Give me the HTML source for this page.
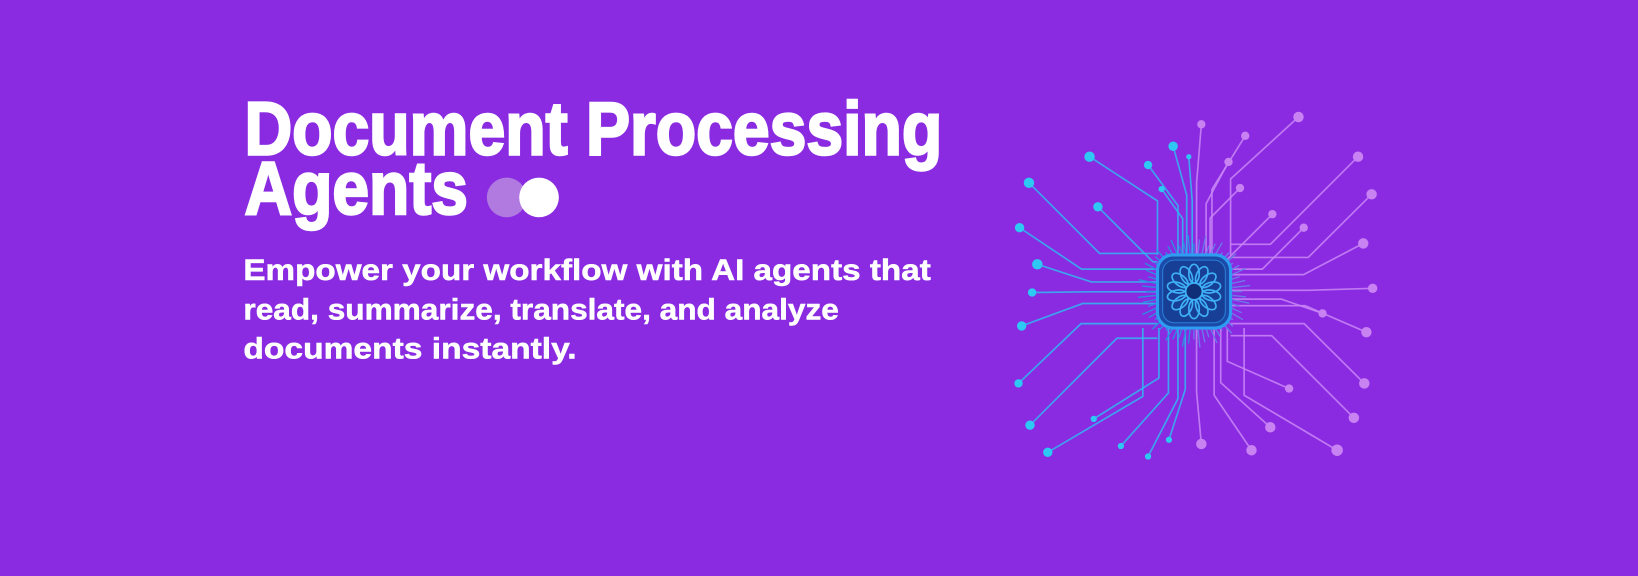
<!DOCTYPE html>
<html><head><meta charset="utf-8"><style>
html,body{margin:0;padding:0;background:#8a2be2;width:1638px;height:576px;overflow:hidden}
svg{display:block}
text{font-family:"Liberation Sans",sans-serif;font-weight:bold;fill:#fff}
</style></head><body>
<svg id="s" width="1638" height="576" viewBox="0 0 1568 551.4" preserveAspectRatio="none" xmlns="http://www.w3.org/2000/svg">
<rect width="1568" height="552" fill="#8a2be2"/>
<text x="234" y="148" font-size="72" stroke="#fff" stroke-width="2.4" textLength="668" lengthAdjust="spacingAndGlyphs">Document Processing</text>
<text x="234" y="205" font-size="72" stroke="#fff" stroke-width="2.4" textLength="214" lengthAdjust="spacingAndGlyphs">Agents</text>
<circle cx="485" cy="189" r="19" fill="#b07ae0"/>
<circle cx="516" cy="189" r="19" fill="#fff"/>
<text x="233" y="268" font-size="28" stroke="#fff" stroke-width="0.5" textLength="658" lengthAdjust="spacingAndGlyphs">Empower your workflow with AI agents that</text>
<text x="233" y="306" font-size="28" stroke="#fff" stroke-width="0.5" textLength="570" lengthAdjust="spacingAndGlyphs">read, summarize, translate, and analyze</text>
<text x="233" y="343" font-size="28" stroke="#fff" stroke-width="0.5" textLength="319" lengthAdjust="spacingAndGlyphs">documents instantly.</text>
<g id="net" fill="none" stroke-width="1.6"></g>
<g id="chip"></g>
</svg>
<script>
var NS="http://www.w3.org/2000/svg",cx=1143,cy=279,h=35;
var net=document.getElementById('net'),chip=document.getElementById('chip');
function el(p,t,a){var e=document.createElementNS(NS,t);for(var k in a)e.setAttribute(k,a[k]);p.appendChild(e);return e}
var dots=[[1043,150,5],[985,175,5],[976,218,4.5],[993,253,5],[988,280,4],[978,312,4.5],[975,367,4],[986,407,4.5],[1003,433,4.5],[1051,198,4.5],[1099,158,4],[1123,140,4.5],[1112,181,3],[1138,150,2.5],[1047,401,3],[1073,427,3],[1099,437,3],[1119,421,3],
[1150,119,4],[1192,130,4],[1243,112,5],[1300,150,5],[1313,186,5],[1305,233,5],[1314,276,4.5],[1308,318,5],[1306,367,5],[1280,431,5.5],[1216,409,5],[1198,431,5],[1150,425,5],[1176,155,4],[1187,180,4],[1218,205,4],[1248,218,4],[1266,300,4],[1296,400,5],[1234,372,4]];
dots.forEach(function(d){
 var x=d[0],y=d[1],dx=x-cx,dy=y-cy,ex,ey,bx,by;
 if(Math.abs(dx)>Math.abs(dy)){ex=cx+Math.sign(dx)*h;ey=cy+dy*0.35;bx=x+(ex-x)*0.45;by=ey;if(Math.abs(by-y)>Math.abs(bx-x)){bx=x+Math.sign(ex-x)*Math.abs(by-y)}}
 else{ey=cy+Math.sign(dy)*h;ex=cx+dx*0.35;by=y+(ey-y)*0.45;bx=ex;}
 var c=x<cx?"#2fb8f0":"#c987f5";
 el(net,'path',{d:"M"+x+" "+y+" L"+bx+" "+by+" L"+ex+" "+ey,stroke:c,'stroke-opacity':0.85});
 el(net,'circle',{cx:x,cy:y,r:d[2],fill:x<cx?"#2ec9f3":"#c982f2",stroke:'none'});
});
for(var i=0;i<60;i++){var a=i/60*Math.PI*2,r1=37,r2=46+(i%3)*4;
 el(chip,'line',{x1:cx+Math.cos(a)*r1,y1:cy+Math.sin(a)*r1,x2:cx+Math.cos(a)*r2,y2:cy+Math.sin(a)*r2,stroke:Math.cos(a)<0?"#2a8ce0":"#6a7ae8",'stroke-width':1.3});}
el(chip,'rect',{x:cx-h,y:cy-h,width:2*h,height:2*h,rx:15,fill:"#1c4aa8",stroke:"#2e9cf0",'stroke-width':3});
el(chip,'rect',{x:cx-h+5,y:cy-h+5,width:2*h-10,height:2*h-10,rx:11,fill:"#173f96",stroke:"#2a7fd8",'stroke-width':1});
for(var j=0;j<14;j++){var a=j/14*360;
 el(chip,'ellipse',{cx:cx,cy:cy-17,rx:5,ry:9,fill:"none",stroke:"#3fb0f5",'stroke-width':1.6,transform:"rotate("+a+" "+cx+" "+cy+")"});}
el(chip,'circle',{cx:cx,cy:cy,r:8,fill:"#0f2f78",stroke:"#3fb0f5",'stroke-width':1.6});
</script>
</body></html>
